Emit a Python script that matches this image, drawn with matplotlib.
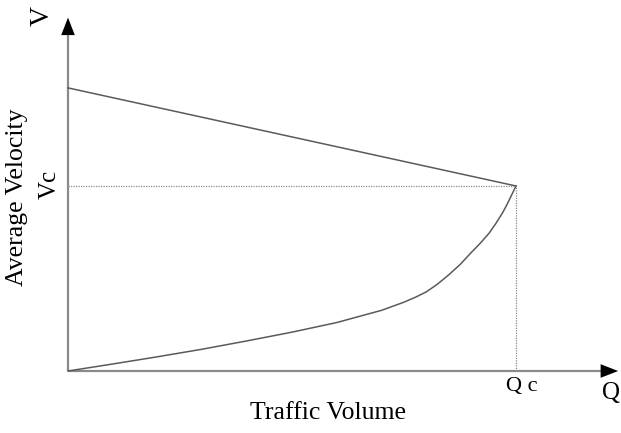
import numpy as np
import matplotlib
matplotlib.use("Agg")
import matplotlib.pyplot as plt

# Speed-flow relation, normalised: Q / Qc and V / Vc
q_upper = [0.0, 1.0]
v_upper = [1.53, 1.0]

q_lower = [0.0, 0.1, 0.2, 0.3, 0.4, 0.5, 0.6, 0.7, 0.75, 0.775, 0.8, 0.825,
           0.85, 0.875, 0.9, 0.92, 0.94, 0.955, 0.97, 0.98, 0.99, 1.0]
v_lower = [0.0, 0.038, 0.077, 0.118, 0.163, 0.210, 0.262, 0.328, 0.372,
           0.398, 0.428, 0.470, 0.520, 0.575, 0.640, 0.690, 0.745, 0.797,
           0.855, 0.900, 0.950, 1.0]

q_crit = 1.0
v_crit = 1.0
q_axis_end = 1.228
v_axis_end = 1.91

AXIS_GRAY = "#8a8a8a"
LINE_GRAY = "#5a5a5a"
SERIF = ["Liberation Serif", "DejaVu Serif"]

fig = plt.figure(figsize=(6.21, 4.33), dpi=100)
ax = fig.add_axes([0, 0, 1, 1])
ax.set_xlim(-0.1518, 1.2344)
ax.set_ylim(-0.335, 2.005)
ax.axis("off")

# axes with arrow heads
ax.plot([0, q_axis_end - 0.02], [0, 0], color=AXIS_GRAY, lw=1.6, solid_capstyle="butt")
ax.plot([0, 0], [0, v_axis_end - 0.04], color=AXIS_GRAY, lw=1.6, solid_capstyle="butt")
head = dict(arrowstyle="-|>,head_length=0.9,head_width=0.35", color="black",
            lw=0, shrinkA=0, shrinkB=0, mutation_scale=14)
ax.annotate("", xy=(q_axis_end, 0), xytext=(q_axis_end - 0.03, 0), arrowprops=head)
ax.annotate("", xy=(0, v_axis_end), xytext=(0, v_axis_end - 0.06), arrowprops=head)

# curves
ax.plot(q_upper, v_upper, color=LINE_GRAY, lw=1.1)
ax.plot(q_lower, v_lower, color=LINE_GRAY, lw=1.1, solid_joinstyle="round")

# critical point guides
ax.plot([0, q_crit], [v_crit, v_crit], color=AXIS_GRAY, lw=0.9, ls=(0, (1, 1)))
ax.plot([q_crit, q_crit], [0, v_crit], color=AXIS_GRAY, lw=0.9, ls=(0, (1, 1)))

# labels
ax.text(-0.058, 1.92, "V", rotation=90, ha="center", va="center",
        fontsize=20, family=SERIF)
ax.text(-0.041, 1.01, "Vc", rotation=90, ha="center", va="center",
        fontsize=18, family=SERIF)
ax.text(-0.114, 0.94, "Average Velocity", rotation=90, ha="center", va="center",
        fontsize=18.5, family=SERIF)
ax.text(1.013, -0.085, "Q c", ha="center", va="center", fontsize=16, family=SERIF)
ax.text(1.233, -0.12, "Q", ha="right", va="center", fontsize=18, family=SERIF)
ax.text(0.58, -0.225, "Traffic Volume", ha="center", va="center",
        fontsize=18.5, family=SERIF)

fig.savefig("out.png", dpi=100)
